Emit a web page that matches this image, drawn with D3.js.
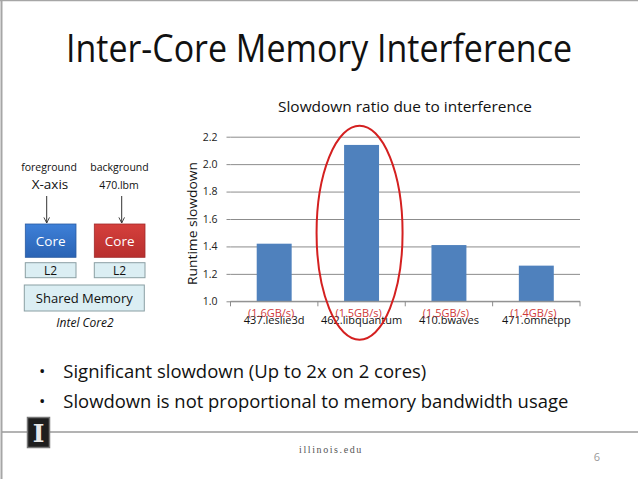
<!DOCTYPE html>
<html>
<head>
<meta charset="utf-8">
<script src="https://cdn.jsdelivr.net/npm/d3@7"></script>
<style>
  body { margin: 0; background: #fff; }
  svg { display: block; font-family: 'Open Sans', sans-serif; }
</style>
</head>
<body>
<script>
// chart values
const categories = ['437.leslie3d', '462.libquantum', '410.bwaves', '471.omnetpp'];
const bandwidths = ['(1.6GB/s)', '(1.5GB/s)', '(1.5GB/s)', '(1.4GB/s)'];
const slowdown = [1.42, 2.14, 1.41, 1.26];
const yTicks = [1.0, 1.2, 1.4, 1.6, 1.8, 2.0, 2.2];
const highlighted = '462.libquantum';
const highlightSpan = [0.72, 2.28];
const bullets = [
  'Significant slowdown (Up to 2x on 2 cores)',
  'Slowdown is not proportional to memory bandwidth usage'
];

const W = 638, H = 479;
const plot = { left: 230.5, right: 580, top: 136.7, bottom: 301.3 };

let svg = d3.select('body')
  .append('svg')
  .attr('width', W)
  .attr('height', H);

// slide frame
svg.append('line').attr('x1', 0).attr('x2', W).attr('y1', 0.5).attr('y2', 0.5)
  .style('stroke', '#a6a6a6').style('stroke-width', 1.5);
svg.append('line').attr('x1', 1.5).attr('x2', 1.5).attr('y1', 0).attr('y2', H)
  .style('stroke', '#a6a6a6').style('stroke-width', 2);

// slide title
svg.append('text')
  .attr('x', 319)
  .attr('y', 62)
  .attr('text-anchor', 'middle')
  .attr('textLength', 506)
  .attr('lengthAdjust', 'spacingAndGlyphs')
  .style('font-size', '38px')
  .style('fill', '#111')
  .text('Inter-Core Memory Interference');

// chart
let x = d3.scaleBand().domain(categories).range([plot.left, plot.right]);
let y = d3.scaleLinear().domain([1.0, 2.2]).range([plot.bottom, plot.top]);

svg.append('text')
  .attr('x', 405)
  .attr('y', 112)
  .attr('text-anchor', 'middle')
  .attr('textLength', 254)
  .attr('lengthAdjust', 'spacingAndGlyphs')
  .style('font-size', '14px')
  .style('fill', '#111')
  .text('Slowdown ratio due to interference');

let grid = svg.append('g')
  .attr('transform', 'translate(' + plot.left + ',0)')
  .call(d3.axisLeft(y).tickValues(yTicks).tickSize(-(plot.right - plot.left)).tickFormat(''));
grid.select('.domain').remove();
grid.selectAll('line').style('stroke', '#8c8c8c');

let yAxis = svg.append('g')
  .attr('transform', 'translate(' + plot.left + ',0)')
  .call(d3.axisLeft(y).tickValues(yTicks).tickSize(4).tickPadding(9).tickFormat(d3.format('.1f')));
yAxis.select('.domain').remove();
yAxis.selectAll('line').style('stroke', '#8c8c8c');
yAxis.selectAll('text')
  .style('font-family', "'Open Sans', sans-serif")
  .style('font-size', '10.5px')
  .style('fill', '#222');

svg.append('text')
  .attr('transform', 'translate(196.5,223.5) rotate(-90)')
  .attr('text-anchor', 'middle')
  .attr('textLength', 123)
  .attr('lengthAdjust', 'spacingAndGlyphs')
  .style('font-size', '13px')
  .style('fill', '#111')
  .text('Runtime slowdown');

// bars
let barW = x.bandwidth() * 0.4;
svg.selectAll('.bar')
  .data(categories)
  .enter()
  .append('rect')
  .attr('class', 'bar')
  .attr('x', function (d) { return x(d) + (x.bandwidth() - barW) / 2; })
  .attr('y', function (d, i) { return y(slowdown[i]); })
  .attr('width', barW)
  .attr('height', function (d, i) { return y(1.0) - y(slowdown[i]); })
  .style('fill', '#4f81bd');

// x axis line and ticks at band edges
svg.append('line')
  .attr('x1', plot.left).attr('x2', plot.right)
  .attr('y1', y(1.0)).attr('y2', y(1.0))
  .style('stroke', '#8c8c8c');
svg.selectAll('.xtick')
  .data(categories.map(function (d) { return x(d); }).concat([x.range()[1]]))
  .enter()
  .append('line')
  .attr('class', 'xtick')
  .attr('x1', function (d) { return d; }).attr('x2', function (d) { return d; })
  .attr('y1', y(1.0)).attr('y2', y(1.0) + 5)
  .style('stroke', '#8c8c8c');

svg.selectAll('.catlabel')
  .data(categories)
  .enter()
  .append('text')
  .attr('class', 'catlabel')
  .attr('x', function (d) { return x(d) + x.bandwidth() / 2; })
  .attr('y', 324)
  .attr('text-anchor', 'middle')
  .style('font-size', '11px')
  .style('fill', '#111')
  .text(function (d) { return d; });

svg.selectAll('.bwlabel')
  .data(categories)
  .enter()
  .append('text')
  .attr('class', 'bwlabel')
  .attr('x', function (d) { return x(d) + x.bandwidth() / 2 - 3; })
  .attr('y', 317)
  .attr('text-anchor', 'middle')
  .style('font-size', '11px')
  .style('fill', '#d03a3a')
  .text(function (d, i) { return bandwidths[i]; });

// highlight ellipse
svg.append('ellipse')
  .attr('cx', x(highlighted) + x.bandwidth() / 2 - 2)
  .attr('cy', (y(highlightSpan[0]) + y(highlightSpan[1])) / 2)
  .attr('rx', 43)
  .attr('ry', (y(highlightSpan[0]) - y(highlightSpan[1])) / 2)
  .style('fill', 'none')
  .style('stroke', '#d42020')
  .style('stroke-width', 2);

// left diagram
let diag = svg.append('g').attr('id', 'diagram');
let defs = svg.append('defs');
let gBlue = defs.append('linearGradient').attr('id', 'gblue').attr('x1', 0).attr('x2', 0).attr('y1', 0).attr('y2', 1);
gBlue.append('stop').attr('offset', 0).attr('stop-color', '#3e80d8');
gBlue.append('stop').attr('offset', 1).attr('stop-color', '#2a63b4');
let gRed = defs.append('linearGradient').attr('id', 'gred').attr('x1', 0).attr('x2', 0).attr('y1', 0).attr('y2', 1);
gRed.append('stop').attr('offset', 0).attr('stop-color', '#d5403c');
gRed.append('stop').attr('offset', 1).attr('stop-color', '#b82f2e');
defs.append('marker')
  .attr('id', 'arrow')
  .attr('viewBox', '0 0 10 10')
  .attr('refX', 9).attr('refY', 5)
  .attr('markerWidth', 7).attr('markerHeight', 7)
  .attr('orient', 'auto')
  .append('path')
  .attr('d', 'M1,1 L9,5 L1,9')
  .style('fill', 'none')
  .style('stroke', '#333')
  .style('stroke-width', 1.3);

let diagText = [
  { t: 'foreground', x: 49, y: 171, s: 10.5 },
  { t: 'X-axis', x: 50, y: 189, s: 13.5 },
  { t: 'background', x: 119.5, y: 171, s: 10.5 },
  { t: '470.lbm', x: 119, y: 189, s: 10.5 }
];
diag.selectAll('.dt')
  .data(diagText)
  .enter()
  .append('text')
  .attr('x', function (d) { return d.x; })
  .attr('y', function (d) { return d.y; })
  .attr('text-anchor', 'middle')
  .style('font-size', function (d) { return d.s + 'px'; })
  .style('fill', '#111')
  .text(function (d) { return d.t; });

[46.7, 121.7].forEach(function (ax) {
  diag.append('line')
    .attr('x1', ax).attr('x2', ax)
    .attr('y1', 196).attr('y2', 223)
    .style('stroke', '#333')
    .attr('marker-end', 'url(#arrow)');
});

diag.append('rect').attr('x', 25.3).attr('y', 224).attr('width', 50.7).attr('height', 33.3)
  .style('fill', 'url(#gblue)').style('stroke', '#2a5aa0').style('stroke-width', 0.8);
diag.append('rect').attr('x', 94.3).attr('y', 224).attr('width', 50.7).attr('height', 33.3)
  .style('fill', 'url(#gred)').style('stroke', '#a02a2a').style('stroke-width', 0.8);
diag.append('text').attr('x', 50.7).attr('y', 246).attr('text-anchor', 'middle')
  .style('font-size', '13.5px').style('fill', '#fff').text('Core');
diag.append('text').attr('x', 119.7).attr('y', 246).attr('text-anchor', 'middle')
  .style('font-size', '13.5px').style('fill', '#fff').text('Core');

[25.3, 94.3].forEach(function (bx) {
  diag.append('rect').attr('x', bx).attr('y', 262.7).attr('width', 50.7).attr('height', 15)
    .style('fill', '#dbeef3').style('stroke', '#8a9fa3').style('stroke-width', 1);
  diag.append('text').attr('x', bx + 25.35).attr('y', 275).attr('text-anchor', 'middle')
    .style('font-size', '12px').style('fill', '#111').text('L2');
});
diag.append('rect').attr('x', 24.3).attr('y', 285).attr('width', 120).attr('height', 26)
  .style('fill', '#dbeef3').style('stroke', '#8a9fa3').style('stroke-width', 1);
diag.append('text').attr('x', 84.3).attr('y', 303).attr('text-anchor', 'middle')
  .style('font-size', '13px').style('fill', '#111').text('Shared Memory');
diag.append('text').attr('x', 85).attr('y', 327).attr('text-anchor', 'middle')
  .style('font-size', '12px').style('font-style', 'italic').style('fill', '#111').text('Intel Core2');

// bullet points
let bl = svg.selectAll('.bullet')
  .data(bullets)
  .enter()
  .append('g')
  .attr('class', 'bullet')
  .attr('transform', function (d, i) { return 'translate(0,' + (378 + i * 30) + ')'; });
bl.append('text').attr('x', 39).attr('y', -1).style('font-size', '17px').style('fill', '#111').text('•');
bl.append('text')
  .attr('x', 63.3)
  .attr('textLength', function (d, i) { return [363, 505][i]; })
  .attr('lengthAdjust', 'spacingAndGlyphs')
  .style('font-size', '18px')
  .style('fill', '#111')
  .text(function (d) { return d; });

// footer
svg.append('line').attr('x1', 2).attr('x2', W).attr('y1', 432).attr('y2', 432)
  .style('stroke', '#9a9a9a').style('stroke-width', 1.5);
svg.append('rect').attr('x', 27.5).attr('y', 417.5).attr('width', 22).attr('height', 30)
  .style('fill', '#1e1e1e').style('stroke', '#777').style('stroke-width', 1.5);
svg.append('text').attr('x', 38.5).attr('y', 442).attr('text-anchor', 'middle')
  .style('font-family', "'DejaVu Serif', serif").style('font-weight', 'bold')
  .style('font-size', '25px').style('fill', '#e8e8e8').text('I');
svg.append('text').attr('x', 331).attr('y', 453).attr('text-anchor', 'middle')
  .style('font-family', "'Liberation Serif', serif").style('font-size', '10px')
  .style('letter-spacing', '1.6px').style('fill', '#555').text('illinois.edu');
svg.append('text').attr('x', 597).attr('y', 461).attr('text-anchor', 'middle')
  .style('font-size', '11px').style('fill', '#999').text('6');
</script>
</body>
</html>
